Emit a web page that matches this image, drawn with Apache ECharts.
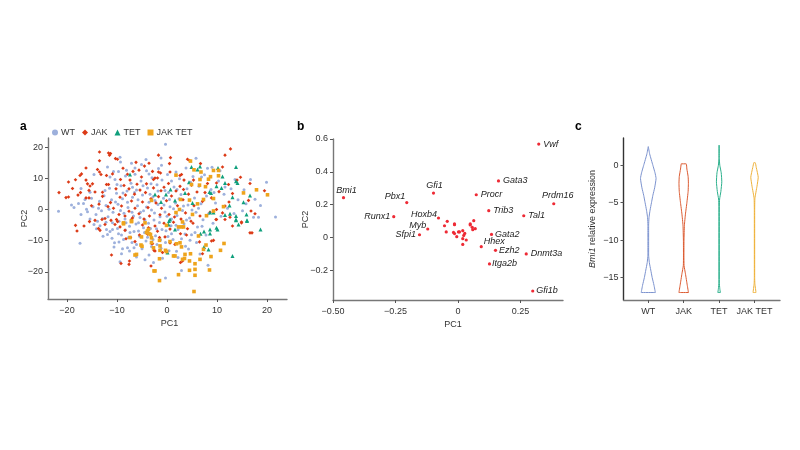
<!DOCTYPE html>
<html>
<head>
<meta charset="utf-8">
<title>PCA and Bmi1 expression</title>
<script src="https://cdn.jsdelivr.net/npm/echarts@6/dist/echarts.min.js"></script>
<style>
  html, body { margin: 0; padding: 0; background: #fff; }
  #chart { width: 800px; height: 450px; }
</style>
</head>
<body>
<div id="chart"></div>
<script>
// panel a: single cells
const wtCells = [[-21.7,-0.6],[-19.1,1.4],[-18.6,0.6],[-17.7,1.9],[-16.7,1.9],[-17.2,-1.6],[-16.4,3.2],[-15.4,5.5],[-17.2,6.7],[-11.9,13.6],[-10.7,12.2],[-9.4,16.7],[-9.3,15.2],[-9.7,12.2],[-14.6,11.2],[-5.1,14.4],[-4.2,16],[-6.4,13.3],[-17.4,-10.8],[-14.1,-6.2],[-11.9,-8],[-11.4,-7.1],[-10.9,-6.4],[-10.5,-10.7],[-10.6,-12],[-9.4,-16.8],[-8.9,-12.6],[-7.9,-12.3],[-7.5,-13.3],[-8.7,-9.6],[-7.7,-9],[-6.6,-12.3],[-6.1,-11.2],[-9.7,-7.8],[-9.1,-8.2],[-15.4,-3.1],[-12.1,-6.4],[-4.7,-5.9],[-5.7,-4.3],[-5.7,-6.9],[-4.2,-10.1],[-2.7,-17],[-0.3,20.9],[-1.2,16.5],[5.8,16.4],[-1.7,13.1],[1.8,12],[8.1,13.2],[9,13.5],[16.7,9.6],[19.9,8.7],[18.7,1.3],[21.7,-2.4],[17.3,-2.5],[18.3,-2.5],[13.6,9.6],
  [-14.8,0.9],[-14.2,-1.6],[-13.5,2.6],[-13.1,-0.4],[-12.6,4.4],[-12.2,1.3],[-11.8,-2.3],[-11.5,6.8],[-11.1,3.1],[-10.8,-0.9],[-10.4,9.6],[-10.1,5.2],[-9.8,1.7],[-9.6,-3.8],[-9.2,7.6],[-8.9,3.4],[-8.6,-1.2],[-8.3,10.7],[-8,5.9],[-7.8,0.6],[-7.5,-5.4],[-7.2,8.4],[-6.9,3.9],[-6.7,-2.1],[-6.4,11.3],[-6.1,6.2],[-5.9,1.2],[-5.5,-8.6],[-5.2,9.1],[-4.9,4.6],[-4.7,-0.4],[-4.4,-3.4],[-4.1,12.4],[-3.9,6.9],[-3.6,2.3],[-3.3,-6.1],[-3,10.2],[-2.8,4.1],[-2.5,-1.1],[-2.3,-8.4],[-2,7.9],[-1.8,1.6],[-1.5,-4.2],[-1.2,-12.4],[-1,9.4],[-0.7,3.6],[-0.4,-0.8],[-0.2,-6.8],[0.1,11.2],[0.3,5.4],[0.6,0.9],[0.9,-3.1],[1.2,-9.6],[1.4,7.2],[1.7,2.1],[2,-1.9],[2.2,-6.4],[2.5,9.8],[2.8,4.8],[3.1,-0.3],[3.4,-4.6],[3.7,-11.8],[4,6.6],[4.2,1.4],[4.5,-2.7],[4.9,-8.1],[5.2,10.6],[5.5,3.7],[5.8,-0.9],[6.1,-5.6],[6.4,7.4],[6.8,1.8],[7.2,-3.3],[7.5,11.1],[7.9,4.3],[8.3,-1.4],[8.8,6.4],[9.2,-4.4],[9.7,2.1],[10.3,9.1],[10.8,-2.2],[11.4,4.9],[12.1,0.4],[12.8,6.6],[13.4,-1.3],[14.2,3.1],[15.1,-0.4],[15.8,1.8],[-13.9,-3.8],[-8.2,-4.3],[-6.6,-7.1],[-3.1,-11.9],[-1.3,-9.7],[0.4,-13.2],[2.2,-15.4],[4.3,-12.7],[6.6,-14.3],[8.2,-17.9],[-3.6,-14.6],[-5.4,-2.6],[-2.6,-3.4],[0.8,-5.2],[3.6,-7.9],[5.9,-10.6],[7.8,-8.2],[-0.3,-22],[2.9,-19.6],[-11.4,10.4],[-7.1,14.8],[-1.1,14.2],[3.8,13.3],[10.6,12.4],[11.6,7.2],[15.4,6.3],[17.6,3.3],
  [-15.9,-0.7],[-15.1,3.6],[-13.7,0.4],[-12.9,-2.9],[-12.4,6.1],[-11.6,0.1],[-10.9,-4.3],[-10.3,2.4],[-9.9,-6.1],[-9.3,-0.3],[-8.8,5.3],[-8.4,-3.1],[-7.9,2.3],[-7.4,-7.4],[-7,-0.9],[-6.5,5.4],[-6.2,-4.7],[-5.8,3.1],[-5.3,-0.9],[-4.8,7.6],[-4.5,-7.4],[-4.1,0.8],[-3.7,-4.4],[-3.4,4.9],[-3.1,-0.2],[-2.8,-9.6],[-2.4,2.9],[-2.1,-6.2],[-1.8,5.9],[-1.4,-2.3],[-1,-6.4],[-0.6,1.4],[-0.3,-10.6],[0,-2.2],[0.5,3.2],[0.9,-7.8],[1.3,0.2],[1.8,-5.1],[2.4,3.4],[2.9,-9.4],[3.3,1.1],[3.9,-3.4],[4.6,-9.9],[5,-0.2],[5.6,-7.4],[6.3,0.4],[7,-5.4],[-13.4,-5.2],[-12.2,-4.1],[-11,-9.2],[-9.6,-10.4],[-8.3,-6.6],[-7,-10.6],[-5,-12.6],[-3.9,-8.9],[-2,-11.2],[0.2,-8.7],[-16.1,0.1],[-14.6,-4.8],[-12.8,-8.6],[-9.1,-14.2],[-6.1,-15.2],[-4.4,-16.1],[-0.9,-15.6],[1.9,-13.4],[-10,8],[-6.9,7.1],[-3.2,8.2],[-0.4,6.1],[2,6.4],[4.7,8.7],[-8.1,12.6],[-3.6,11.4],[0.9,9.1],[6.9,10.4],[9.4,5.4]];

const jakCells = [[-21.6,5.4],[-19.7,8.8],[-18.9,6.7],[-18.3,9.5],[-17.4,10.9],[-17.1,11.4],[-16.2,13.3],[-20.2,3.8],[-19.7,4],[-17.8,4.6],[-17.3,5.4],[-16.2,9.4],[-15.9,8.2],[-15.4,7.5],[-14.9,8.2],[-15.6,6.1],[-16.2,3.7],[-15.6,3.7],[-14.4,5.6],[-13.5,18.4],[-13.5,15.6],[-13.9,12.8],[-13.5,12],[-13.2,11.2],[-11.7,18.1],[-11.3,17.9],[-11.5,17.4],[-10.3,16.3],[-9.9,16.1],[-12.1,10.9],[-10.9,11.4],[-12.1,8],[-11.7,8],[-12.9,5.5],[-12.9,4.2],
  [12.7,19.4],[11.6,17.4],[-1.7,17.4],[0.7,16.6],[4.1,16.1],[4.5,15.7],[6.7,14.7],[0.5,14.7],[0.6,12],[11.1,13.6],[-2.9,12.2],[-1.7,12],[-1.3,11.7],[2.6,10.9],[2.9,11.2],[-2.4,10.1],[-1.9,10.1],[-2.7,9.6],[14.7,10.3],[14,9.4],[16.6,8.3],[19.5,6],[12.3,8],[9.9,8.5],[8.1,8.3],[5.3,9.4],[3.4,9.4],[4.9,7.8],[3.3,6.4],[1.8,5.9],[0.3,8.3],[-1.2,6],[12.4,2.4],[11.6,1.1],[16.3,2.9],[16.8,-0.5],[17.6,-1.4],[14.9,-4],[9.9,0],[11.1,-1.1],[8.6,-0.9],[9.8,-3.2],
  [-3.2,-18.1],[-2.4,-13.3],[-0.9,-13.8],[3.9,-8.2],[2.7,-7.8],[-0.4,-8.8],[-1.5,-9],[-2.9,-11],[1.6,-11.2],[0.6,-10.7],[6.5,-10.4],[8.9,-10.1],[9.3,-9.9],[7.1,-14.2],[2.7,-17],[3.1,-16.5],[16.6,-7.5],[17,-7.5],[9.9,-3.2],[11.6,-3.2],[13.1,-5.3],[12.6,-2.5],[14.9,-4.3],
  [-18.3,-5.1],[-18,-6.9],[-16.6,-5.3],[-15.5,-3.9],[-14.4,-3.5],[-13.4,-6.7],[-13.7,-6.1],[-13,-3.2],[-12.4,-2.9],[-12.4,-4.8],[-11.2,-3.5],[-10.1,-3.2],[-9.9,-3.9],[-11.1,-14.6],[-9.2,-17.3],[-7.5,-16.5],[-7.6,-17.6],[-8.4,-6.7],[-7.1,-3.2],[-8.2,-9.4],[-7.3,-9],[-6.4,-10.3],[-5.5,-8.2],[-3.1,-10.9],[-2.6,-13.1],[-3.7,-5.9],[-4.9,-5],[-6.9,-2.7],[-8.4,-2.1],[-10.4,-4.8],[-9.4,-5.6],
  [-8.8,13.2],[-7.9,11.3],[-7.4,9.4],[-6.8,12.2],[-6.2,15.1],[-5.6,12.6],[-5.1,10.4],[-4.5,13.9],[-4.1,8.2],[-3.6,14.8],[-9.3,9.6],[-8.6,7.7],[-10.2,6.6],[-9.4,3.9],[-11.3,2.2],[-10.7,0.4],[-9.1,1.1],[-8.3,4.6],[-7.6,6.6],[-7.1,2.7],[-6.5,4.9],[-6,8.1],[-5.4,6.2],[-4.9,2.4],[-4.3,5.4],[-3.8,0.6],[-3.2,3.4],[-2.7,6.9],[-2.2,2.1],[-1.7,4.1],[-1.1,0.4],[-0.6,7.1],[-0.1,2.8],[0.4,-1.6],[0.9,4.3],[1.5,-2.4],[2.1,1.2],[2.6,7.4],[3.2,3.1],[3.7,-1.1],[4.3,4.9],[4.8,-3.8],[5.4,1.2],[6,5.6],[6.6,-2.1],[7.1,2.6],[-5.6,-1.4],[-4.6,-3.1],[-3.5,-2.1],[-2.4,-5.3],[-1.4,-1.7],[-0.6,-4.4],[0.6,-6.3],[1.3,-4.1],[2.8,-3.1],[4.1,-6.2],[5.2,-4.4],[-7.6,-0.6],[-9.6,-1.6],[-11.8,0.9],[-13.6,1.7],[-15.1,1.2],[-6.4,0.4],[-3.9,-7.9],[-1.9,-7],[7.6,5.4],[8.9,3.7],[10.4,5.7],[13.1,5.1]];

const tetCells = [[13.1,-14.9],[18.7,-6.4],[0.1,-13.8],[8.3,-12.8],[7.4,-12],[9.9,-5.9],[10.1,-6.4],[8.6,-6.4],[8.6,-7.7],[7.4,-7.1],[6.7,-7.8],[14.3,-4.8],[16,-3.5],[13.8,-3.2],[0.3,-4.8],[0.6,-3.2],[1.6,-6.4],[13.8,13.6],[10.2,13.3],[4.9,13.6],[6.6,13.8],[6.1,12.8],[11.1,10.6],[11.6,8.5],[14.1,8.5],[13.8,9],[10.9,6.9],[9.9,7.4],[8.5,5.6],[8.8,5.3],[4.4,8.7],[3.6,5.3],[0.7,6.4],[-0.2,4.8],[-1.2,2.4],[1.6,2.9],[5.1,2.1],[13.1,3.9],[15.3,2.3],[16.6,4.5],[12.5,1.3],[9.3,-1],[8.6,-1],[11.6,-1.8],[12.6,-1.4],[13.8,-2.1],[13.8,-3.5],[15.9,-1.6],[16,-3.7],[0.4,-3.7],[-2.4,4.8],[-7.4,11.2]];

const jakTetCells = [[-6.4,-14.6],[-6.1,-14.4],[-5.2,-11.4],[-5,-11.8],[-8.7,-4.6],[-7.1,-3.7],[-7.4,-9],[-5.1,-8.8],[-4.4,-4.3],[-3.9,-6.9],[-3.6,-7.8],[-4.1,-7.4],[-3.3,-8],[-3.7,-6.4],[-3.1,-10.6],[-2.6,-19.7],[-2.7,-12.3],
  [5.4,-26.3],[-1.5,-22.8],[2.3,-20.9],[5.6,-21.1],[8.5,-19.4],[-2.4,-19.7],[4.5,-19.5],[5.6,-19.2],[8.8,-15.1],[5.6,-17.4],[4.5,-16.5],[6.6,-16],[4.7,-14.2],[3.6,-14.4],[3.5,-15.7],[3.1,-16],[1.3,-14.9],[1.6,-14.9],[-1.5,-15.8],[-0.3,-13.1],[-0.1,-13.5],[-1.4,-13.1],[2.9,-12],[2.6,-10.7],[0.6,-10.3],[1.9,-11],[2.3,-5.6],[2.9,-5.6],[3.3,-5.6],[-0.1,-5.1],[11.4,-10.9],[10.7,-13.1],[7.3,-12.8],[7.8,-11.4],[6.3,-8.5],[-1.5,-9.9],[-3.1,-9.1],[-1.4,-11.7],
  [4.7,15.5],[1.8,11],[5.4,12.7],[6.8,12],[9.3,12.5],[10.3,12.5],[10.3,10.8],[8.7,10.5],[8.3,9.7],[4.9,8],[6.5,7.8],[7.7,7.3],[6.6,9.6],[11.3,0.9],[15.3,5.3],[17.9,6.3],[20.1,4.7],[9.3,3.5],[4.5,3],[6.1,1.8],[7.3,3.2],[2.5,0],[1.8,-1],[5.1,-1.6],[7.9,-2],[9.3,-0.5],[3.1,-4],[-3.1,2.9],[2.7,3.2],[-8.7,-4.3],[-7.1,-3.9]];

const pcaTicksX = [-20, -10, 0, 10, 20];
const pcaTicksY = [-20, -10, 0, 10, 20];

// panel b: gene loadings, first the named genes then the unnamed cluster
const geneNames = ["Bmi1","Pbx1","Runx1","Gfi1","Vwf","Gata3","Procr","Prdm16","Trib3","Tal1","Hoxb4","Myb","Sfpi1","Gata2","Hhex","Ezh2","Dnmt3a","Itga2b","Gfi1b"];
const geneX = [-0.458,-0.205,-0.257,-0.098,0.323,0.162,0.073,0.383,0.123,0.263,-0.078,-0.121,-0.154,0.134,0.093,0.15,0.273,0.126,0.299];
const geneY = [0.242,0.212,0.126,0.27,0.569,0.344,0.26,0.205,0.163,0.132,0.118,0.051,0.016,0.018,-0.057,-0.079,-0.101,-0.162,-0.327];
const otherGenes = [[-0.043,0.098],[0.063,0.102],[0.049,0.082],[-0.014,0.082],[-0.054,0.071],[-0.047,0.033],[-0.014,0.077],[-0.018,0.03],[-0.014,0.023],[-0.005,0.004],[0.002,0.033],[0.006,0.033],[0.019,0.041],[0.027,0.024],[0.023,0.012],[0.019,-0.008],[0.033,-0.016],[0.019,-0.043],[0.049,0.076],[0.057,0.061],[0.059,0.047],[0.069,0.053]];
const loadTicksX = [-0.5, -0.25, 0, 0.25];
const loadTicksY = [-0.2, 0, 0.2, 0.4, 0.6];

// panel c: violin outlines, expression level and half width (in category widths)
const violinNames = ["WT", "JAK", "TET", "JAK TET"];
const wtLevels = [2.5,1.5,0,-1,-1.75,-3,-4,-5,-6,-7,-8,-10,-12,-13,-14,-15,-16,-17];
const wtHalf = [0,0.04,0.13,0.19,0.22,0.18,0.13,0.09,0.05,0.02,0.01,0.01,0.01,0.03,0.07,0.11,0.16,0.2];
const jakLevels = [0.2,-0.5,-1.5,-2.4,-3.5,-5,-6.5,-8,-10,-12,-13.4,-14.5,-16,-17];
const jakHalf = [0.07,0.09,0.125,0.133,0.125,0.09,0.05,0.02,0.008,0.006,0.01,0.05,0.1,0.135];
const tetLevels = [2.7,0.9,0,-1,-2.2,-3.5,-4.5,-5.5,-15.6,-16.5,-17];
const tetHalf = [0,0.004,0.02,0.06,0.076,0.05,0.015,0.005,0.004,0.02,0.035];
const jakTetLevels = [0.35,-0.3,-1.6,-2.8,-4.4,-6,-15,-15.8,-17];
const jakTetHalf = [0.02,0.05,0.105,0.07,0.012,0.005,0.005,0.01,0.042];
const violinTicksY = [-15, -10, -5, 0];

const colors = { wt: "#9db0dc", jak: "#dc3a16", tet: "#0f9f7c", jakTet: "#eea41c" };
const violinColors = ["#7c93cf", "#dc5a30", "#2bb08c", "#efb23a"];

function minus(v) {
  return String(v).replace("-", "\u2212");
}

// goes up one side and back down the other, then closes
function violinLine(center, levels, half) {
  const pts = [];
  for (let i = 0; i < levels.length; i++) pts.push([center - half[i], levels[i]]);
  for (let i = levels.length - 1; i >= 0; i--) pts.push([center + half[i], levels[i]]);
  pts.push(pts[0]);
  return pts;
}

function xAxisFor(idx, min, max, ticks, fmt, lineColor, name, shift) {
  return {
    type: "value", gridIndex: idx, min: min, max: max,
    name: name, nameLocation: "middle", nameGap: 20, nameMoveOverlap: false,
    nameTextStyle: { fontSize: 9, color: "#333", padding: [0, 0, 0, shift] },
    splitLine: { show: false },
    axisLine: { onZero: false, lineStyle: { color: lineColor, width: 1.4 } },
    axisTick: { customValues: ticks, length: 3, lineStyle: { color: "#555" } },
    axisLabel: { customValues: ticks, formatter: fmt, fontSize: 9, color: "#333", margin: 7, hideOverlap: false, showMinLabel: true, showMaxLabel: true },
  };
}

function yAxisFor(idx, min, max, ticks, fmt, lineColor, name, gap) {
  return {
    type: "value", gridIndex: idx, min: min, max: max,
    name: name, nameLocation: "middle", nameGap: gap, nameMoveOverlap: false,
    nameTextStyle: {
      fontSize: 9, color: "#333",
      rich: { i: { fontStyle: "italic", fontSize: 9, color: "#333" }, n: { fontSize: 9, color: "#333" } },
    },
    splitLine: { show: false },
    axisLine: { onZero: false, lineStyle: { color: lineColor, width: 1.4 } },
    axisTick: { customValues: ticks, length: 3, lineStyle: { color: "#555" } },
    axisLabel: { customValues: ticks, formatter: fmt, fontSize: 9, color: "#333", margin: 5 },
  };
}

function cellSeries(name, data, symbol, size, color) {
  return {
    name: name, type: "scatter", xAxisIndex: 0, yAxisIndex: 0,
    data: data, symbol: symbol, symbolSize: size,
    itemStyle: { color: color, opacity: 1 }, silent: true,
  };
}

// label side and nudge per gene, same order as geneNames
const labelPlace = {
  Bmi1: ["top", [3, 1]], Pbx1: ["left", [2, -6]], Runx1: ["left", [0, 0]], Gfi1: ["top", [1, 0]],
  Vwf: ["right", [1, 0]], Gata3: ["right", [1, 0]], Procr: ["right", [1, 0]], Prdm16: ["top", [4, 0]],
  Trib3: ["right", [1, 0]], Tal1: ["right", [1, 0]], Hoxb4: ["left", [2, -4]], Myb: ["left", [2, -4]],
  Sfpi1: ["left", [0, 0]], Gata2: ["right", [0, 0]], Hhex: ["right", [-1, -5]], Ezh2: ["right", [0, 0]],
  Dnmt3a: ["right", [1, 0]], Itga2b: ["right", [-1, 0]], Gfi1b: ["right", [0, 0]],
};

const namedGenes = geneNames.map((g, i) => ({
  value: [geneX[i], geneY[i]],
  name: g,
  label: {
    show: true, formatter: g, position: labelPlace[g][0], offset: labelPlace[g][1], distance: 2,
    fontSize: 9, fontStyle: "italic", color: "#222",
  },
}));

const chart = echarts.init(document.getElementById("chart"), null, { renderer: "canvas" });
const violinSeries = [[wtLevels, wtHalf], [jakLevels, jakHalf], [tetLevels, tetHalf], [jakTetLevels, jakTetHalf]].map((v, i) => ({
  name: violinNames[i] + " violin", type: "line", xAxisIndex: 2, yAxisIndex: 2,
  data: violinLine(i, v[0], v[1]), symbol: "none", silent: true, smooth: 0.15,
  lineStyle: { color: violinColors[i], width: 1 },
}));

chart.setOption({
  animation: false,
  backgroundColor: "#fff",
  textStyle: { fontFamily: "Liberation Sans, Arial, sans-serif" },
  title: [
    { text: "a", left: 20, top: 121 },
    { text: "b", left: 297, top: 121 },
    { text: "c", left: 575, top: 121 },
  ].map((t) => ({ ...t, padding: 0, textStyle: { fontSize: 12, fontWeight: "bold", color: "#000" } })),
  legend: {
    left: 52, top: 128, itemWidth: 6, itemHeight: 6, itemGap: 7, padding: 0,
    textStyle: { fontSize: 9, color: "#333", padding: [0, 0, 0, -2] },
    data: [
      { name: "WT", icon: "circle" },
      { name: "JAK", icon: "diamond" },
      { name: "TET", icon: "triangle" },
      { name: "JAK TET", icon: "rect" },
    ],
  },
  grid: [
    { left: 48, top: 138, width: 239, height: 161 },
    { left: 333, top: 139, width: 230, height: 161 },
    { left: 623.5, top: 138, width: 156.5, height: 162 },
  ],
  xAxis: [
    xAxisFor(0, -23.8, 24, pcaTicksX, minus, "#777", "PC1", 4),
    xAxisFor(1, -0.5, 0.42, loadTicksX, (v) => (v === 0 ? "0" : minus(v.toFixed(2))), "#777", "PC1", 10),
    xAxisFor(2, -0.7, 3.72, [0, 1, 2, 3], (v) => violinNames[v], "#777", "", 0),
  ],
  yAxis: [
    yAxisFor(0, -28.7, 22.9, pcaTicksY, minus, "#777", "PC2", 18.5),
    yAxisFor(1, -0.382, 0.6, loadTicksY, (v) => (v === 0 ? "0" : minus(v.toFixed(1))), "#777", "PC2", 23),
    yAxisFor(2, -18, 3.65, violinTicksY, minus, "#333", "{i|Bmi1}{n| relative expression}", 26.5),
  ],
  series: [
    cellSeries("WT", wtCells, "circle", 3, colors.wt),
    cellSeries("JAK", jakCells, "diamond", 3.6, colors.jak),
    cellSeries("TET", tetCells, "triangle", 4, colors.tet),
    cellSeries("JAK TET", jakTetCells, "rect", 3.6, colors.jakTet),
    {
      name: "genes", type: "scatter", xAxisIndex: 1, yAxisIndex: 1,
      data: namedGenes.concat(otherGenes), symbol: "circle", symbolSize: 3.2,
      itemStyle: { color: "#ee2a35", opacity: 1 }, silent: true,
    },
    ...violinSeries,
  ],
});
</script>
</body>
</html>
